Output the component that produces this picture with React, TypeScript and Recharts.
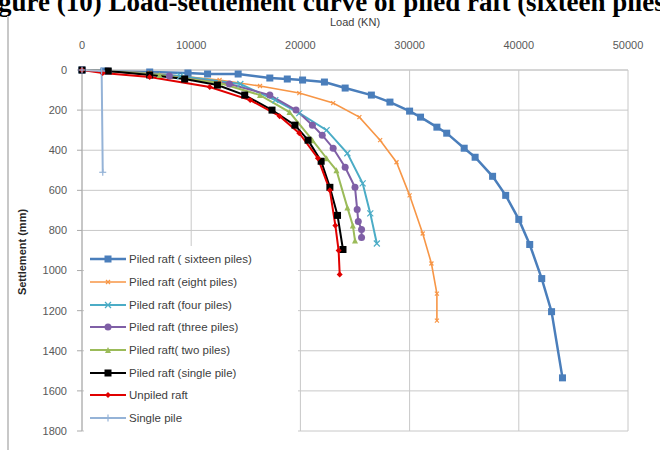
import React from 'react';
import { LineChart, Line, XAxis, YAxis, CartesianGrid, Legend, Label } from 'recharts';

// [load (kN), settlement (mm)] pairs
const sixteenPiles = [
  [0, 0], [2000, 5], [6200, 10], [9700, 15], [11500, 20], [14300, 20], [17200, 40],
  [18800, 45], [20200, 50], [22200, 60], [24100, 90], [26500, 125], [28200, 160],
  [30000, 205], [31000, 235], [32500, 285], [33400, 315], [35000, 390], [36000, 435],
  [37600, 530], [38800, 625], [40000, 745], [41000, 870], [42100, 1040], [43000, 1205],
  [44000, 1535],
];
const eightPiles = [
  [0, 0], [6200, 15], [12600, 50], [16300, 80], [19900, 115], [23000, 165], [25400, 235],
  [27300, 350], [28800, 460], [30000, 625], [31200, 815], [32000, 965], [32500, 1115],
  [32500, 1250],
];
const fourPiles = [
  [0, 0], [2400, 5], [9000, 30], [14500, 70], [17700, 150], [19900, 215], [22400, 300],
  [24300, 415], [25700, 565], [26400, 715], [27000, 865],
];
const threePiles = [
  [0, 0], [2400, 5], [8000, 30], [13500, 70], [17200, 125], [19600, 200], [21100, 275],
  [22000, 325], [23000, 390], [24100, 485], [25000, 585], [25200, 695], [25300, 755],
  [25600, 795], [25600, 835],
];
const twoPiles = [
  [0, 0], [2400, 5], [7100, 25], [12600, 65], [16300, 125], [19000, 210], [21100, 350],
  [22400, 440], [23300, 500], [24300, 685], [24800, 775], [25000, 850],
];
const singlePileRaft = [
  [0, 0], [2400, 5], [6200, 25], [9400, 45], [12400, 75], [14900, 125], [17400, 200],
  [19500, 275], [20700, 350], [21900, 455], [22700, 585], [23400, 725], [23900, 895],
];
const unpiledRaft = [
  [0, 0], [1900, 15], [6200, 35], [11700, 85], [15400, 150], [18100, 230], [19900, 315],
  [21600, 440], [22700, 600], [23200, 775], [23500, 900], [23600, 1020],
];
const singlePile = [
  [0, 0], [1800, 5], [1900, 510],
];

const loadTicks = [0, 10000, 20000, 30000, 40000, 50000];
const settlementTicks = [0, 200, 400, 600, 800, 1000, 1200, 1400, 1600, 1800];

const seriesNames = [
  'Piled raft ( sixteen piles)',
  'Piled raft (eight piles)',
  'Piled raft (four piles)',
  'Piled raft (three piles)',
  'Piled raft( two piles)',
  'Piled raft (single pile)',
  'Unpiled raft',
  'Single pile',
];
const seriesData = [sixteenPiles, eightPiles, fourPiles, threePiles, twoPiles, singlePileRaft, unpiledRaft, singlePile];

const styles = [
  { color: '#4a7ebb', shape: 'square', size: 7, width: 2.5 },
  { color: '#f79646', shape: 'cross', size: 4, width: 1.6 },
  { color: '#4bacc6', shape: 'cross', size: 6, width: 2 },
  { color: '#7f5fa6', shape: 'circle', size: 7, width: 2 },
  { color: '#9bbb59', shape: 'triangle', size: 6, width: 2 },
  { color: '#000000', shape: 'square', size: 7, width: 2 },
  { color: '#e00000', shape: 'diamond', size: 6, width: 2 },
  { color: '#95b3d7', shape: 'plus', size: 7, width: 2 },
];

const FONT = '"Liberation Sans", Arial, sans-serif';

function Marker({ shape, cx, cy, color, size }: any) {
  const h = size / 2;
  if (shape === 'square') return <rect x={cx - h} y={cy - h} width={size} height={size} fill={color} />;
  if (shape === 'circle') return <circle cx={cx} cy={cy} r={h} fill={color} />;
  if (shape === 'triangle') return <polygon points={`${cx},${cy - h} ${cx + h},${cy + h} ${cx - h},${cy + h}`} fill={color} />;
  if (shape === 'diamond') return <polygon points={`${cx},${cy - h} ${cx + h},${cy} ${cx},${cy + h} ${cx - h},${cy}`} fill={color} />;
  if (shape === 'plus')
    return (
      <g stroke={color} strokeWidth={1.2}>
        <line x1={cx - h} y1={cy} x2={cx + h} y2={cy} />
        <line x1={cx} y1={cy - h} x2={cx} y2={cy + h} />
      </g>
    );
  return (
    <g stroke={color} strokeWidth={1.2}>
      <line x1={cx - h} y1={cy - h} x2={cx + h} y2={cy + h} />
      <line x1={cx - h} y1={cy + h} x2={cx + h} y2={cy - h} />
    </g>
  );
}

function LegendBox() {
  return (
    <div style={{ background: '#fff', padding: '2px 0 2px 6px', width: 208, fontFamily: FONT, fontSize: 11.5, color: '#404040' }}>
      {seriesNames.map((name, i) => (
        <div key={name} style={{ display: 'flex', alignItems: 'center', height: 22.7 }}>
          <svg width={36} height={12} style={{ flex: 'none' }}>
            <line x1={0} y1={6} x2={36} y2={6} stroke={styles[i].color} strokeWidth={styles[i].width} />
            <Marker {...styles[i]} cx={18} cy={6} />
          </svg>
          <span style={{ marginLeft: 3, whiteSpace: 'nowrap' }}>{name}</span>
        </div>
      ))}
    </div>
  );
}

const tickStyle = { fontSize: 11, fill: '#595959', fontFamily: FONT };

export default function App() {
  return (
    <div style={{ position: 'absolute', left: 0, top: 0, width: 660, height: 450, overflow: 'hidden', background: '#fff' }}>
      <div
        style={{
          position: 'absolute', left: -2, top: -13, whiteSpace: 'nowrap', lineHeight: '30px',
          fontFamily: '"Liberation Serif", serif', fontWeight: 'bold', fontSize: 27, color: '#000',
        }}
      >
        gure (10) Load-settlement curve of piled raft (sixteen piles)
      </div>
      <div style={{ position: 'absolute', left: 7, top: 16, width: 2, height: 434, background: '#c8c8c8' }} />
      <div style={{ position: 'absolute', left: 0, top: 0 }}>
        <LineChart width={660} height={450} margin={{ top: 40, right: 32, left: 52, bottom: 19 }}>
          <CartesianGrid stroke="#c8c8c8" strokeWidth={1} />
          <XAxis
            type="number"
            dataKey="load"
            orientation="top"
            domain={[0, 50000]}
            ticks={loadTicks}
            height={30}
            tickLine={false}
            axisLine={{ stroke: '#c8c8c8' }}
            tickMargin={15}
            tick={tickStyle}
          >
            <Label value="Load (KN)" position="top" offset={14} style={{ fontSize: 11, fill: '#404040', fontFamily: FONT }} />
          </XAxis>
          <YAxis
            type="number"
            dataKey="settlement"
            domain={[0, 1800]}
            ticks={settlementTicks}
            reversed
            width={30}
            tickSize={5}
            tickMargin={10}
            tickLine={{ stroke: '#aaaaaa' }}
            axisLine={{ stroke: '#aaaaaa' }}
            tick={tickStyle}
          >
            <Label
              content={() => (
                <text
                  x={22}
                  y={252}
                  transform="rotate(-90 22 252)"
                  textAnchor="middle"
                  dominantBaseline="central"
                  style={{ fontSize: 11, fill: '#262626', fontFamily: FONT, fontWeight: 'bold' }}
                >
                  Settlement (mm)
                </text>
              )}
            />
          </YAxis>
          <Legend
            layout="vertical"
            align="center"
            verticalAlign="middle"
            content={() => <LegendBox />}
            wrapperStyle={{ left: 84, top: 246, width: 214 }}
          />
          {seriesData.map((pts, i) => (
            <Line
              key={seriesNames[i]}
              name={seriesNames[i]}
              data={pts.map(([load, settlement]) => ({ load, settlement }))}
              dataKey="settlement"
              type="linear"
              stroke={styles[i].color}
              strokeWidth={styles[i].width}
              dot={(p: any) => <Marker key={`${i}-${p.index}`} {...styles[i]} cx={p.cx} cy={p.cy} />}
              activeDot={false}
              isAnimationActive={false}
            />
          ))}
        </LineChart>
      </div>
    </div>
  );
}
